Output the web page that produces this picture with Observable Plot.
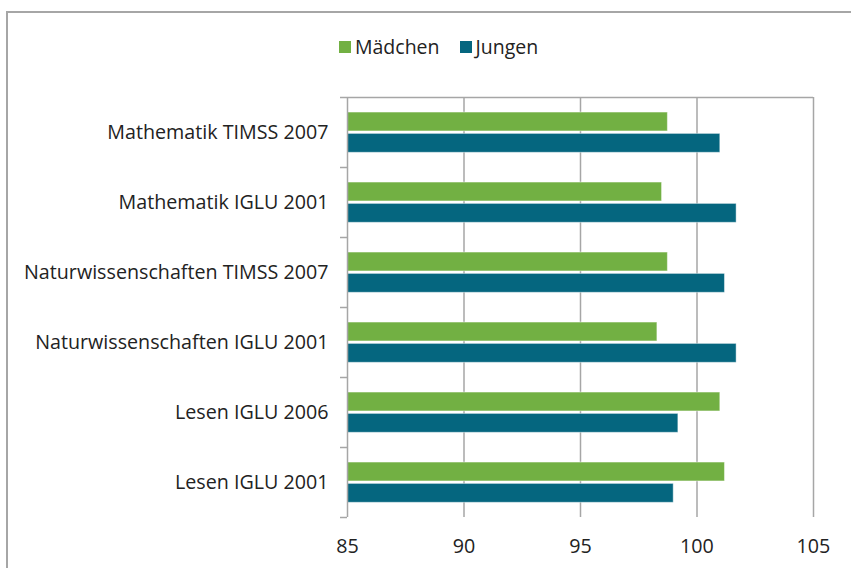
<!DOCTYPE html>
<html>
<head>
<meta charset="utf-8">
<script src="https://cdn.jsdelivr.net/npm/d3@7"></script>
<script src="https://cdn.jsdelivr.net/npm/@observablehq/plot@0.6"></script>
<style>
  html, body { margin: 0; padding: 0; background: #fff; overflow: hidden; }
  #wrap { position: relative; width: 851px; height: 568px; font-family: "Open Sans", sans-serif; color: #222; }
  #frame { position: absolute; left: 6px; top: 11px; width: 900px; height: 600px; border-top: 2px solid #a6a6a6; border-left: 2px solid #a6a6a6; box-sizing: border-box; }
  #legend { position: absolute; left: 339px; top: 33px; display: flex; align-items: center; font-size: 19.5px; line-height: 28px; color: #222; }
  .sw { display: inline-block; width: 12px; height: 12px; margin-right: 4px; }
  .item { display: flex; align-items: center; margin-right: 20px; }
  #chart { position: absolute; left: 0; top: 0; }
</style>
</head>
<body>
<div id="wrap">
  <div id="frame"></div>
  <div id="chart"></div>
  <div id="legend"></div>
</div>
<script>
const categories = [
  "Mathematik TIMSS 2007",
  "Mathematik IGLU 2001",
  "Naturwissenschaften TIMSS 2007",
  "Naturwissenschaften IGLU 2001",
  "Lesen IGLU 2006",
  "Lesen IGLU 2001"
];
const maedchen = [98.75, 98.5, 98.75, 98.3, 101.0, 101.2];
const jungen = [101.0, 101.7, 101.2, 101.7, 99.2, 99.0];
const series = ["Mädchen", "Jungen"];
const colors = ["#72b043", "#05667f"];
const xDomain = [85, 105];
const xTicks = [85, 90, 95, 100, 105];

const rows = categories.flatMap((c, i) => [
  {cat: c, i, series: series[0], value: maedchen[i]},
  {cat: c, i, series: series[1], value: jungen[i]}
]);

const grid = "#a6a6a6";
const chart = Plot.plot({
  width: 851,
  height: 568,
  marginLeft: 347,
  marginRight: 38,
  marginTop: 97,
  marginBottom: 51,
  style: {fontFamily: "Open Sans, sans-serif", fontSize: "19.7px", color: "#222", background: "transparent", overflow: "visible"},
  x: {domain: xDomain},
  y: {domain: [0, categories.length], reverse: true},
  color: {domain: series, range: colors},
  marks: [
    Plot.ruleX(xTicks.slice(1), {stroke: grid, strokeWidth: 1.5}),
    Plot.ruleY([0], {stroke: grid, strokeWidth: 1.5}),
    Plot.rect(rows, {
      x1: () => xDomain[0],
      x2: "value",
      y1: d => d.i + (d.series === series[0] ? 0.215 : 0.52),
      y2: d => d.i + (d.series === series[0] ? 0.485 : 0.79),
      fill: "series",
      stroke: "white",
      strokeOpacity: 0.45,
      strokeWidth: 1
    }),
    Plot.ruleX([xDomain[0]], {stroke: grid, strokeWidth: 1.5}),
    Plot.axisY({ticks: d3.range(0, categories.length + 1), tickSize: 7, tickFormat: () => "", stroke: grid, strokeWidth: 1.5, label: null}),
    Plot.axisY({ticks: categories.map((c, i) => i + 0.5), tickSize: 0, tickPadding: 19, tickFormat: v => categories[Math.floor(v)], label: null, fontSize: 19.7, fill: "#222"}),
    Plot.axisX({ticks: xTicks, tickSize: 0, tickPadding: 21, tickFormat: d => String(d), label: null, fontSize: 19.7, fill: "#222"})
  ]
});
document.getElementById("chart").appendChild(chart);

const legend = document.getElementById("legend");
series.forEach((s, k) => {
  const item = document.createElement("div");
  item.className = "item";
  const sw = document.createElement("span");
  sw.className = "sw";
  sw.style.background = colors[k];
  const t = document.createElement("span");
  t.textContent = s;
  item.appendChild(sw);
  item.appendChild(t);
  legend.appendChild(item);
});
</script>
</body>
</html>
